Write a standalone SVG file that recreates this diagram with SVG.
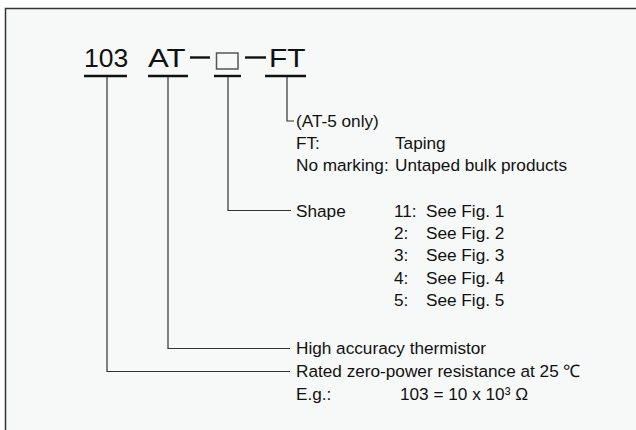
<svg xmlns="http://www.w3.org/2000/svg" width="636" height="430" viewBox="0 0 636 430">
<style>
.t{font-family:"Liberation Sans",Arial,sans-serif;font-size:17.2px;fill:#111}
.h{font-family:"Liberation Sans",Arial,sans-serif;font-size:26px;fill:#111}
.ln{stroke:#333;stroke-width:1.2;fill:none}
.ul{stroke:#111;stroke-width:2.4}
</style>
<rect x="0" y="0" width="636" height="430" fill="#ffffff"/>
<rect x="5.5" y="8.5" width="700" height="500" fill="#f7f8f8" stroke="#333" stroke-width="1.5"/>
<g id="code">
<text class="h" transform="translate(84,67) scale(1.02,1)">103</text>
<text class="h" transform="translate(148,67) scale(1.2,1)">AT</text>
<line x1="190" y1="57.5" x2="210" y2="57.5" stroke="#111" stroke-width="2.4"/>
<rect x="216.5" y="53" width="21.5" height="16" fill="none" stroke="#555" stroke-width="1.5"/>
<line x1="245" y1="57.5" x2="266" y2="57.5" stroke="#111" stroke-width="2.4"/>
<text class="h" transform="translate(269,67) scale(1.15,1)">FT</text>
<line class="ul" x1="84" y1="76" x2="127" y2="76"/>
<line class="ul" x1="148" y1="76" x2="188" y2="76"/>
<line class="ul" x1="214" y1="76" x2="241" y2="76"/>
<line class="ul" x1="265" y1="76" x2="306" y2="76"/>
</g>
<g id="connectors">
<polyline class="ln" points="287,77 287,121 294,121"/>
<polyline class="ln" points="228,77 228,210.5 291,210.5"/>
<polyline class="ln" points="168,77 168,348.5 290,348.5"/>
<polyline class="ln" points="107,77 107,371.5 290,371.5"/>
</g>
<g id="taping">
<text class="t" x="296" y="127">(AT-5 only)</text>
<text class="t" x="296" y="149">FT:</text>
<text class="t" x="395" y="149">Taping</text>
<text class="t" x="296" y="171">No marking:</text>
<text class="t" x="395" y="171">Untaped bulk products</text>
</g>
<g id="shape">
<text class="t" x="296" y="217">Shape</text>
<text class="t" x="394" y="217">11:</text>
<text class="t" x="426" y="217">See Fig. 1</text>
<text class="t" x="394" y="239">2:</text>
<text class="t" x="426" y="239">See Fig. 2</text>
<text class="t" x="394" y="261">3:</text>
<text class="t" x="426" y="261">See Fig. 3</text>
<text class="t" x="394" y="284">4:</text>
<text class="t" x="426" y="284">See Fig. 4</text>
<text class="t" x="394" y="306">5:</text>
<text class="t" x="426" y="306">See Fig. 5</text>
</g>
<g id="series">
<text class="t" x="296" y="354">High accuracy thermistor</text>
</g>
<g id="resistance">
<text class="t" x="296" y="377">Rated zero-power resistance at 25 ℃</text>
<text class="t" x="296" y="400">E.g.:</text>
<text class="t" x="400" y="400">103 = 10 x 10³ Ω</text>
</g>
</svg>
